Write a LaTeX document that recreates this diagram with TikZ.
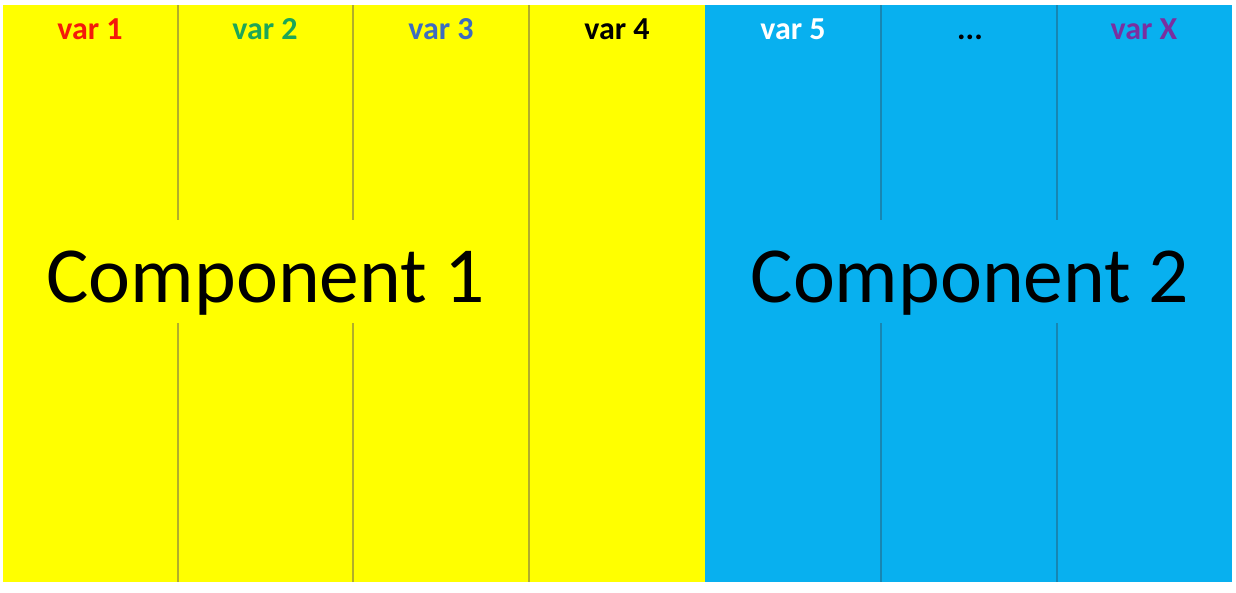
\documentclass[tikz,border=0pt]{standalone}
\usepackage{fontspec}
\setmainfont{Carlito}
\definecolor{cyellow}{HTML}{FFFF00}
\definecolor{cblue}{HTML}{08B0EF}
\definecolor{ylines}{HTML}{B2AE2A}
\definecolor{blines}{HTML}{1786B2}
\definecolor{vgreen}{HTML}{1DA658}
\definecolor{vblue}{HTML}{3D6CC0}
\definecolor{vpurple}{HTML}{7A2FA0}
\definecolor{vred}{HTML}{F41A0A}
\begin{document}
\begin{tikzpicture}[x=1pt,y=-1pt,
  varlabel/.style={font=\fontsize{32}{32}\selectfont\bfseries, anchor=base, inner sep=0pt},
  comp/.style={font=\fontsize{79.5}{80}\selectfont, anchor=base, inner sep=0pt},
  yline/.style={draw=ylines, line width=1.5pt},
  bline/.style={draw=blines, line width=1.5pt}]
\useasboundingbox (0,0) rectangle (1236,592);
\fill[white] (0,0) rectangle (1236,592);
\fill[cyellow] (3,5) rectangle (705,582);
\fill[cblue] (705,5) rectangle (1232,582);
% column separators
\draw[yline] (178,5) -- (178,220) (178,323) -- (178,582);
\draw[yline] (353,5) -- (353,220) (353,323) -- (353,582);
\draw[yline] (529,5) -- (529,582);
\draw[bline] (881,5) -- (881,220) (881,323) -- (881,582);
\draw[bline] (1057,5) -- (1057,220) (1057,323) -- (1057,582);
% labels
\node[varlabel, text=vred] (v1) at (90,39) {var 1};
\node[varlabel, text=vgreen] (v2) at (265,39) {var 2};
\node[varlabel, text=vblue] (v3) at (441,39) {var 3};
\node[varlabel, text=black] (v4) at (617,39) {var 4};
\node[varlabel, text=white] (v5) at (793,39) {var 5};
\node[varlabel, text=black] (vd) at (970,39) {...};
\node[varlabel, text=vpurple] (vx) at (1144,39) {var X};
\node[comp] (c1) at (266,302) {Component 1};
\node[comp] (c2) at (970,302) {Component 2};
\end{tikzpicture}
\end{document}
